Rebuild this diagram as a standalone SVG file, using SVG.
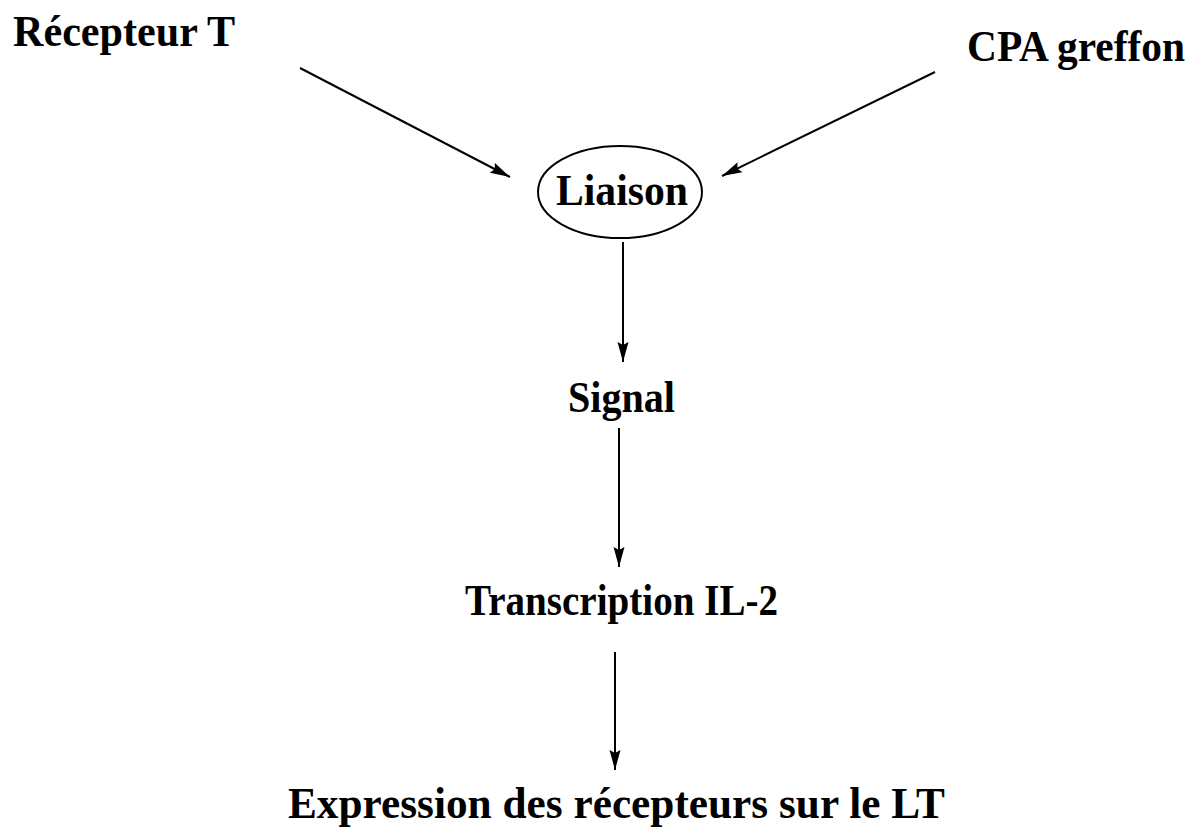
<svg xmlns="http://www.w3.org/2000/svg" width="1199" height="839" viewBox="0 0 1199 839">
  <style>
    .lbl { font-family: "Liberation Serif", "Times New Roman", serif; font-weight: bold; font-size: 44px; fill: #000; }
    .edge { stroke: #000; stroke-width: 2; fill: none; marker-end: url(#head); }
  </style>
  <defs>
    <marker id="head" markerUnits="userSpaceOnUse" markerWidth="22" markerHeight="12" refX="20" refY="6" orient="auto">
      <path d="M0,0.5 L20,6 L0,11.5 L3,6 Z" fill="#000"/>
    </marker>
  </defs>
  <rect width="1199" height="839" fill="#fff"/>

  <g id="connectors">
    <line class="edge" x1="300" y1="68" x2="510" y2="177"/>
    <line class="edge" x1="935" y1="72" x2="722" y2="176"/>
    <line class="edge" x1="623" y1="242" x2="623" y2="362"/>
    <line class="edge" x1="619" y1="428" x2="619" y2="567"/>
    <line class="edge" x1="615" y1="652" x2="615" y2="770"/>
  </g>

  <g id="recepteur">
    <text class="lbl" x="13" y="46" textLength="222" lengthAdjust="spacingAndGlyphs">Récepteur T</text>
  </g>
  <g id="cpa">
    <text class="lbl" x="967" y="61" textLength="218" lengthAdjust="spacingAndGlyphs">CPA greffon</text>
  </g>
  <g id="liaison">
    <ellipse cx="620" cy="192" rx="82" ry="46" fill="none" stroke="#000" stroke-width="2"/>
    <text class="lbl" x="556" y="205" textLength="132" lengthAdjust="spacingAndGlyphs">Liaison</text>
  </g>
  <g id="signal">
    <text class="lbl" x="568" y="412" textLength="107" lengthAdjust="spacingAndGlyphs">Signal</text>
  </g>
  <g id="transcription">
    <text class="lbl" x="465" y="615" textLength="313" lengthAdjust="spacingAndGlyphs">Transcription IL-2</text>
  </g>
  <g id="expression">
    <text class="lbl" x="288" y="818" textLength="657" lengthAdjust="spacingAndGlyphs">Expression des récepteurs sur le LT</text>
  </g>
</svg>
